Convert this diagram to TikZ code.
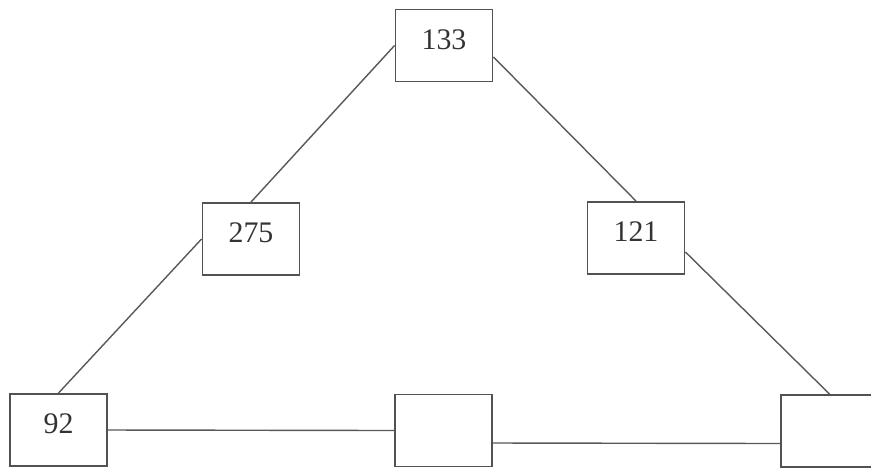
\documentclass[tikz,border=0pt]{standalone}
\usepackage{fontspec}
\setmainfont{Liberation Serif}
\usetikzlibrary{positioning}

\tikzset{
  numbox/.style = {draw=black!68, line width=1.1pt, fill=white, minimum width=1.94cm,
                   minimum height=1.44cm, text depth=0.24cm, text=black!80,
                   font=\fontsize{17}{20}\selectfont},
  link/.style = {draw=black!65, line width=0.8pt}
}

\begin{document}
\begin{tikzpicture}[x=0.02cm, y=-0.02cm]
		\clip (0,0) rectangle (871,468);
		\fill [white] (0,0) rectangle (871,468);
		% tree nodes
		\node [numbox] (n133) at (444,45.5) {133};
		\node [numbox] (n275) at (251,239) {275};
		\node [numbox] (n121) at (636,238) {121};
		\node [numbox] (n92) at (58.5,430) {92};
		\node [numbox] (nmid) at (443.5,430.5) {};
		\node [numbox] (nright) at (829.5,431) {};
		% connections
		\draw [link] (n133.west) -- (n275.north);
		\draw [link] (n275.west) -- (n92.north);
		\draw [link] ([yshift=-0.23cm]n133.east) -- (n121.north);
		\draw [link] ([yshift=-0.28cm]n121.east) -- (nright.north);
		\draw [link] (n92.east) -- (nmid.west);
		\draw [link] ([yshift=-0.25cm]nmid.east) -- ([yshift=-0.25cm]nright.west);
	\end{tikzpicture}
\end{document}
